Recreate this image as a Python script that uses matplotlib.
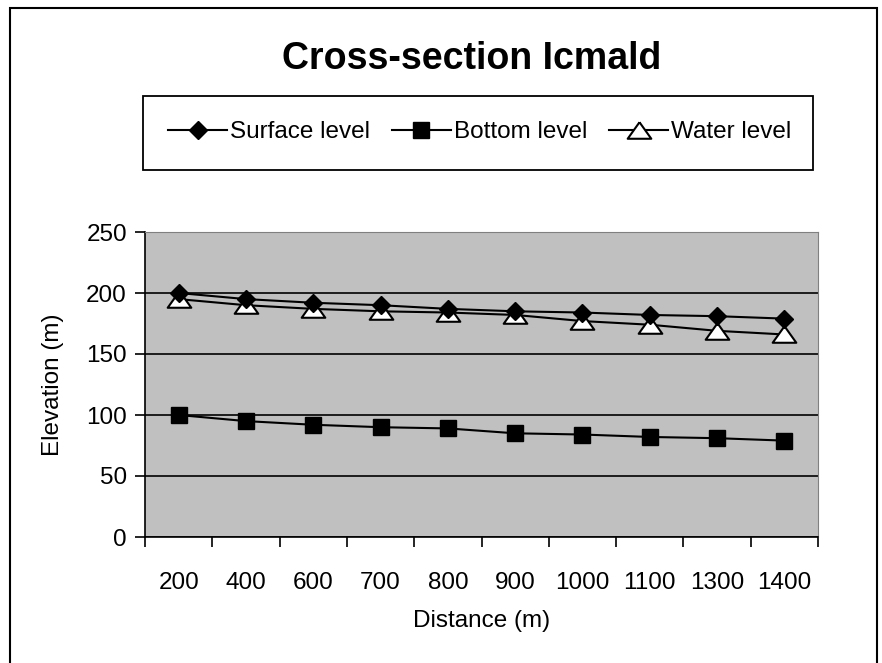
import numpy as np
import matplotlib.pyplot as plt
from matplotlib.patches import Rectangle

plt.rcParams['font.family'] = ['Liberation Sans', 'DejaVu Sans']

distance = ['200', '400', '600', '700', '800', '900', '1000', '1100', '1300', '1400']
surface = [200, 195, 192, 190, 187, 185, 184, 182, 181, 179]
bottom = [100, 95, 92, 90, 89, 85, 84, 82, 81, 79]
water = [195, 190, 187, 185, 184, 182, 177, 174, 169, 166]

W, H = 882, 663
fig = plt.figure(figsize=(W / 100, H / 100), dpi=100)

# chart frame (bottom edge runs off the picture)
fig.patches.append(Rectangle((10 / W, -0.01), (877 - 10) / W, 1.01 - 8 / H, transform=fig.transFigure,
                             fill=False, edgecolor='black', linewidth=1.5))

ax = fig.add_axes([145 / W, 1 - 537 / H, (818 - 145) / W, (537 - 232) / H])
ax.set_facecolor('#c0c0c0')

# flat open triangle like the Excel marker
tri = [(0, 0.7), (-1, -0.7), (1, -0.7), (0, 0.7)]

x = np.arange(len(distance))
ax.plot(x, surface, color='black', lw=1.5, marker='D', ms=9, mfc='black', mec='black',
        label='Surface level', zorder=4)
ax.plot(x, bottom, color='black', lw=1.5, marker='s', ms=11, mfc='black', mec='black',
        label='Bottom level', zorder=4)
ax.plot(x, water, color='black', lw=1.5, marker=tri, ms=17, mfc='white', mec='black', mew=1.5,
        label='Water level', zorder=3)

ax.set_xlim(-0.5, len(distance) - 0.5)
ax.set_ylim(0, 250)
ax.set_yticks(range(0, 251, 50))
ax.yaxis.grid(True, color='black', lw=1.2)
ax.set_axisbelow(True)

ax.set_xticks(np.arange(-0.5, len(distance), 1.0))
ax.set_xticklabels([])
ax.set_xticks(x, minor=True)
ax.set_xticklabels(distance, minor=True)
ax.tick_params(axis='x', which='major', direction='out', length=7, width=1.2)
ax.tick_params(axis='x', which='minor', length=0, pad=25, labelsize=17.5)
ax.tick_params(axis='y', direction='out', length=7, width=1.2, labelsize=17.5, pad=6)

ax.spines['left'].set_linewidth(1.2)
ax.spines['bottom'].set_linewidth(1.2)
ax.spines['top'].set_color('#808080')
ax.spines['right'].set_color('#808080')

ax.set_xlabel('Distance (m)', fontsize=17.5, labelpad=12)
ax.set_ylabel('Elevation (m)', fontsize=17.5, labelpad=16)

fig.text(472 / W, 1 - 59 / H, 'Cross-section Icmald', ha='center', va='center',
         fontsize=27, fontweight='bold')

fig.patches.append(Rectangle((143 / W, 1 - 170 / H), (813 - 143) / W, (170 - 96) / H,
                             transform=fig.transFigure, fill=False, edgecolor='black', linewidth=1.3))
fig.legend(loc='center', bbox_to_anchor=(480 / W, 1 - 132 / H), ncol=3, frameon=False,
           fontsize=17.5, handlelength=2.4, handletextpad=0.15, columnspacing=0.9, markerscale=1.0)

plt.savefig('out.png', dpi=100)
